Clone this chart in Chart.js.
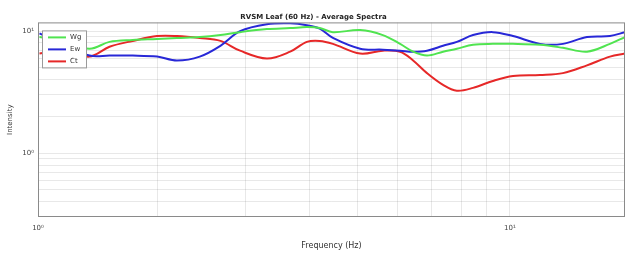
<!DOCTYPE html>
<html>
<head>
<meta charset="utf-8">
<script src="https://cdn.jsdelivr.net/npm/chart.js@4"></script>
<style>
  html, body { margin: 0; padding: 0; background: #fff; }
  #wrap { width: 627px; height: 255px; }
</style>
</head>
<body>
<div id="wrap"><canvas id="chart"></canvas></div>
<script>
// frequency samples (Hz), log axis
const freqs = [1.17, 1.29, 1.47, 1.61, 1.79, 2.0, 2.19, 2.43, 2.67, 2.92, 3.3, 3.67, 3.96, 4.2, 4.46,
  5.05, 5.6, 6.06, 6.43, 6.85, 7.37, 7.85, 8.45, 9.25, 10.14, 11.47, 12.73, 14.21, 15.78, 16.9];

// average spectra, one array per series
const greenVals = [8.95, 8.32, 7.18, 8.17, 8.47, 8.63, 8.79, 8.95, 9.29, 9.82, 10.4, 10.6, 10.8, 10.6, 9.82,
  10.2, 9.29, 7.87, 6.79, 6.31, 6.79, 7.18, 7.73, 7.87, 7.87, 7.73, 7.31, 6.79, 7.87, 8.95];
const blueVals = [9.6, 7.87, 6.31, 6.31, 6.31, 6.19, 5.75, 6.19, 7.59, 10.0, 11.4, 11.6, 11.2, 10.5, 8.8,
  7.18, 7.05, 6.92, 6.79, 6.92, 7.59, 8.17, 9.29, 9.82, 9.12, 7.87, 7.87, 8.95, 9.12, 9.82];
const redVals = [6.55, 6.92, 6.19, 7.45, 8.32, 9.12, 9.12, 8.79, 8.32, 6.92, 5.97, 6.79, 8.17, 8.32, 7.87,
  6.55, 6.92, 6.79, 5.75, 4.53, 3.63, 3.25, 3.43, 3.91, 4.29, 4.37, 4.53, 5.25, 6.19, 6.55];

const seriesNames = ["Wg", "Ew", "Ct"];
const seriesColors = ["rgb(80,228,80)", "rgb(40,40,215)", "rgb(230,40,40)"];

// grid / tick positions
const xMin = 1.162, xMax = 16.9;
const xTicks = [xMin, 2, 3, 4, 5, 6, 7, 8, 9, 10];
const yTicks = [0.4, 0.5, 0.6, 0.7, 0.8, 0.9, 1, 2, 3, 4, 5, 6, 7, 8, 9, 10];
const xLabels = { [xMin]: "10\u2070", 10: "10\u00b9" };
const yLabels = { 1: "10\u2070", 10: "10\u00b9" };

const toPoints = vals => vals.map((v, i) => ({ x: freqs[i], y: v }));

const frameAndLegend = {
  id: "frameAndLegend",
  afterDatasetsDraw(chart) {
    const { ctx, chartArea: a } = chart;
    ctx.save();
    ctx.strokeStyle = "#8a8a8a";
    ctx.lineWidth = 1;
    ctx.strokeRect(a.left + 0.5, a.top + 0.5, a.right - a.left - 1, a.bottom - a.top - 1);

    // legend box in the upper left corner
    const bx = a.left + 4, by = a.top + 8, bw = 44, bh = 37;
    ctx.fillStyle = "#fff";
    ctx.fillRect(bx, by, bw, bh);
    ctx.strokeStyle = "#9a9a9a";
    ctx.strokeRect(bx + 0.5, by + 0.5, bw, bh);
    ctx.font = "7px 'DejaVu Sans'";
    ctx.textBaseline = "middle";
    seriesNames.forEach((name, i) => {
      const yy = by + 7 + i * 12;
      ctx.strokeStyle = seriesColors[i];
      ctx.lineWidth = 2;
      ctx.beginPath();
      ctx.moveTo(bx + 6, yy);
      ctx.lineTo(bx + 24, yy);
      ctx.stroke();
      ctx.fillStyle = "#333";
      ctx.fillText(name, bx + 28, yy);
    });
    ctx.restore();
  }
};

new Chart(document.getElementById("chart"), {
  type: "line",
  data: {
    datasets: [
      { label: seriesNames[0], data: toPoints(greenVals), borderColor: seriesColors[0] },
      { label: seriesNames[1], data: toPoints(blueVals), borderColor: seriesColors[1] },
      { label: seriesNames[2], data: toPoints(redVals), borderColor: seriesColors[2] }
    ]
  },
  options: {
    responsive: true,
    maintainAspectRatio: false,
    animation: false,
    layout: { padding: { left: 2, right: 2, top: 0, bottom: 0 } },
    elements: {
      point: { radius: 0 },
      line: { borderWidth: 2, tension: 0.35 }
    },
    plugins: {
      legend: { display: false },
      tooltip: { enabled: false },
      title: {
        display: true,
        text: "RVSM Leaf (60 Hz) - Average Spectra",
        color: "#222",
        font: { family: "'DejaVu Sans'", size: 7, weight: "bold" },
        padding: { top: 13, bottom: 1 }
      }
    },
    scales: {
      x: {
        type: "logarithmic",
        min: xMin,
        max: xMax,
        afterBuildTicks: s => { s.ticks = xTicks.map(v => ({ value: v })); },
        afterFit: s => { s.height = 38; },
        border: { display: false },
        grid: { color: "rgba(0,0,0,0.09)", drawTicks: false },
        ticks: {
          autoSkip: false, maxRotation: 0, padding: 7, color: "#444",
          font: { family: "'DejaVu Sans'", size: 7 },
          callback: v => xLabels[v] || ""
        },
        title: {
          display: true, text: "Frequency (Hz)", color: "#333",
          font: { family: "'DejaVu Sans'", size: 8 }, padding: { top: 3 }
        }
      },
      y: {
        type: "logarithmic",
        min: 0.33,
        max: 11.8,
        afterBuildTicks: s => { s.ticks = yTicks.map(v => ({ value: v })); },
        afterFit: s => { s.width = 36; },
        border: { display: false },
        grid: { color: "rgba(0,0,0,0.09)", drawTicks: false },
        ticks: {
          autoSkip: false, padding: 4, color: "#444",
          font: { family: "'DejaVu Sans'", size: 7 },
          callback: v => yLabels[v] || ""
        },
        title: {
          display: true, text: "Intensity", color: "#333",
          font: { family: "'DejaVu Sans'", size: 7 }, padding: { bottom: 2 }
        }
      }
    }
  },
  plugins: [frameAndLegend]
});
</script>
</body>
</html>
